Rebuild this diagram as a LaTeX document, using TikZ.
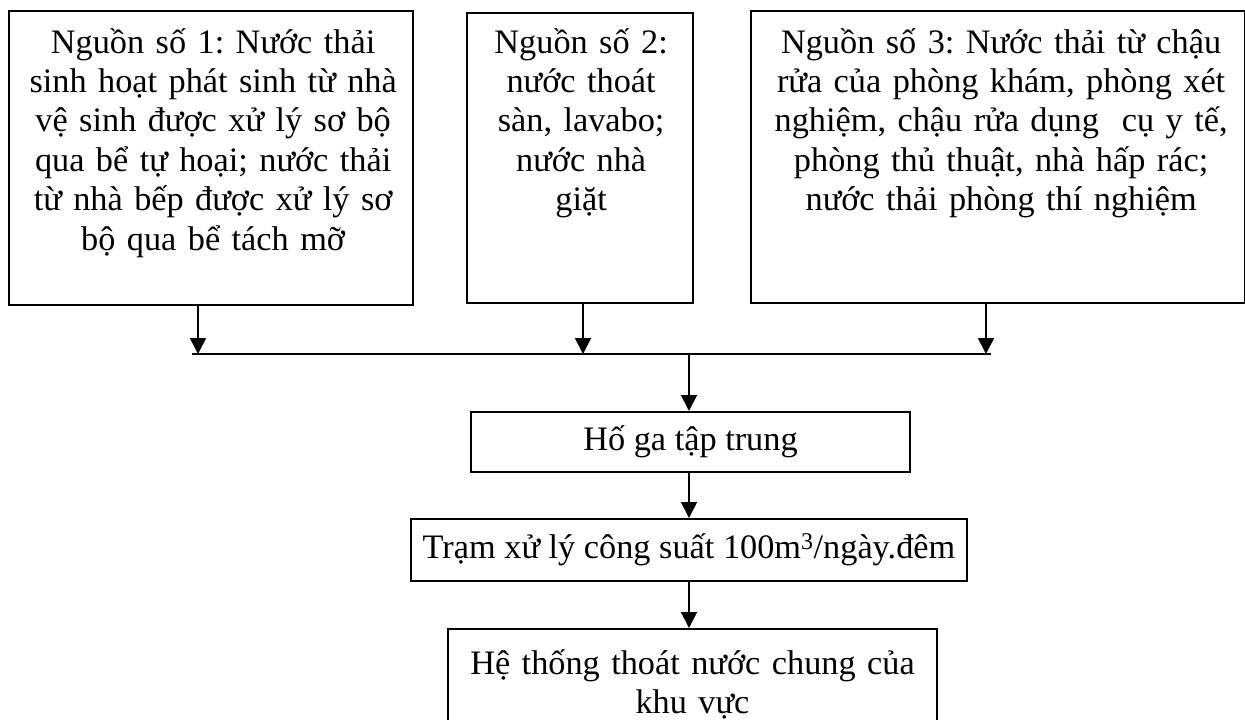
\documentclass[tikz,border=0pt]{standalone}
\usepackage{fontspec}
\setmainfont{Liberation Serif}
\usetikzlibrary{arrows.meta,calc}
\frenchspacing

\begin{document}
\begin{tikzpicture}[x=1pt,y=-1pt,
  box/.style={draw,line width=2.3pt,inner sep=0pt},
  txt/.style={align=center,inner sep=0pt,anchor=base},
  flow/.style={line width=1.8pt,-{Triangle[width=16pt,length=16pt]}},
  font=\fontsize{34.3}{39.4}\selectfont]
\useasboundingbox (0,0) rectangle (1245,720);
\clip (0,0) rectangle (1245,720);
\node[box,minimum width=404pt,minimum height=294pt,anchor=north west] at (8,10) (s1) {};
\node[box,minimum width=226pt,minimum height=290pt,anchor=north west] at (466,12) (s2) {};
\node[box,minimum width=494pt,minimum height=292pt,anchor=north west] at (750,10) (s3) {};
\node[txt,text width=404pt] at ($(s1.north)+(2,43)$) (t1) {Nguồn số 1: Nước thải\\ sinh hoạt phát sinh từ nhà\\ vệ sinh được xử lý sơ bộ\\ qua bể tự hoại; nước thải\\ từ nhà bếp được xử lý sơ\\ bộ qua bể tách mỡ};
\node[txt,text width=226pt] at ($(s2.north)+(1,41)$) (t2) {Nguồn số 2:\\ nước thoát\\ sàn, lavabo;\\ nước nhà\\ giặt};
\node[txt,text width=494pt] at ($(s3.north)+(3,43)$) (t3) {Nguồn số 3: Nước thải từ chậu\\ rửa của phòng khám, phòng xét\\ nghiệm, chậu rửa dụng~ cụ y tế,\\ phòng thủ thuật, nhà hấp rác;\\ nước thải phòng thí nghiệm};
\node[box,minimum width=439pt,minimum height=60pt,anchor=north] at (690.5,411) (hg) {Hố ga tập trung};
\node[box,minimum width=556pt,minimum height=62pt,anchor=north] at (689,518) (tr) {Trạm xử lý công suất 100m\textsuperscript{3}/ngày.đêm};
\node[box,minimum width=489pt,minimum height=130pt,anchor=north] at (692.5,628) (ht) {};
\node[txt,text width=489pt] at ($(ht.north)+(0,46)$) (t4) {Hệ thống thoát nước chung của\\ khu vực};
\coordinate (jl) at (192,354);
\coordinate (jr) at (991,354);
\coordinate (j1) at (198,354);
\coordinate (j2) at (583,354);
\coordinate (j3) at (986,354);
\coordinate (jm) at (689,354);
\draw[line width=1.8pt] (jl) -- (jr);
\draw[flow] (j1 |- s1.south) -- (j1);
\draw[flow] (j2 |- s2.south) -- (j2);
\draw[flow] (j3 |- s3.south) -- (j3);
\draw[flow] (jm) -- (jm |- hg.north);
\draw[flow] (jm |- hg.south) -- (jm |- tr.north);
\draw[flow] (jm |- tr.south) -- (jm |- ht.north);
\end{tikzpicture}
\end{document}
